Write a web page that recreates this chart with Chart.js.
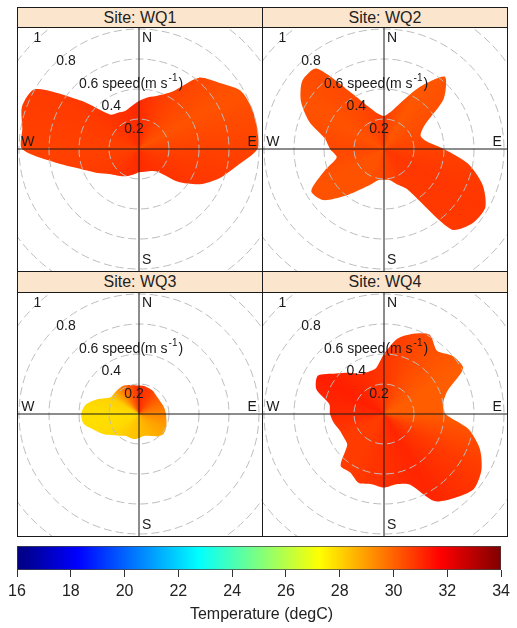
<!DOCTYPE html>
<html>
<head>
<meta charset="utf-8">
<title>Polar plots by site</title>
<script src="https://cdn.jsdelivr.net/npm/chart.js@4.4.1/dist/chart.umd.min.js"></script>
<style>
  body { margin: 0; background: #fff; font-family: "Liberation Sans", Arial, sans-serif; }
  #page { position: relative; width: 517px; height: 628px; overflow: hidden; }
  .strip { position: absolute; box-sizing: border-box; border: 1px solid #1a1a1a; background: #fce5cd;
           color: #222; font-size: 16px; text-align: center; }
  .plot { position: absolute; box-sizing: border-box; border: 1px solid #1a1a1a; overflow: hidden; background: #fff; }
  .plot canvas { position: absolute; left: -29px; top: -29px; }
  #scaleBar { position: absolute; left: 0; top: 536px; }
</style>
</head>
<body>
<div id="page">
  <canvas id="scaleBar" width="517" height="92"></canvas>
</div>
<script>
// wind direction bins (degrees from north, clockwise)
const bearings = [0, 10, 20, 30, 40, 50, 60, 70, 80, 90, 100, 110, 120, 130, 140, 150, 160, 170,
                  180, 190, 200, 210, 220, 230, 240, 250, 260, 270, 280, 290, 300, 310, 320, 330, 340, 350];

// outer extent of the surface per bin, wind speed (m/s)
const speedWQ1 = [0.32, 0.35, 0.38, 0.44, 0.62, 0.69, 0.78, 0.80, 0.80, 0.79, 0.66, 0.57, 0.47, 0.34, 0.20, 0.17, 0.16, 0.155,
                  0.155, 0.17, 0.19, 0.21, 0.23, 0.26, 0.32, 0.40, 0.55, 0.78, 0.79, 0.83, 0.80, 0.50, 0.30, 0.28, 0.27, 0.29];
const speedWQ2 = [0.22, 0.25, 0.33, 0.48, 0.63, 0.52, 0.31, 0.26, 0.29, 0.40, 0.57, 0.70, 0.78, 0.77, 0.70, 0.31, 0.25, 0.21,
                  0.205, 0.21, 0.25, 0.31, 0.41, 0.53, 0.56, 0.42, 0.32, 0.36, 0.40, 0.53, 0.64, 0.71, 0.70, 0.43, 0.30, 0.24];
const speedWQ3 = [0.19, 0.19, 0.185, 0.18, 0.17, 0.165, 0.165, 0.17, 0.175, 0.18, 0.185, 0.195, 0.205, 0.21, 0.195, 0.17, 0.155, 0.15,
                  0.16, 0.17, 0.17, 0.17, 0.19, 0.22, 0.27, 0.315, 0.375, 0.385, 0.36, 0.29, 0.22, 0.215, 0.215, 0.215, 0.205, 0.195];
const speedWQ4 = [0.40, 0.51, 0.57, 0.61, 0.55, 0.60, 0.61, 0.45, 0.40, 0.41, 0.57, 0.68, 0.75, 0.78, 0.73, 0.67, 0.50, 0.475,
                  0.49, 0.475, 0.49, 0.45, 0.45, 0.32, 0.31, 0.315, 0.34, 0.36, 0.37, 0.48, 0.51, 0.42, 0.36, 0.31, 0.30, 0.31];

// mean water temperature by direction sector (degC)
const tempBearings = [0, 30, 60, 90, 120, 150, 180, 210, 240, 270, 300, 330];
const tempWQ1 = [31.0, 30.6, 30.3, 30.6, 30.8, 30.9, 31.0, 30.9, 30.7, 30.6, 30.7, 30.9];
const tempWQ2 = [30.7, 30.2, 30.4, 30.6, 30.8, 30.7, 30.5, 30.3, 30.3, 30.5, 30.3, 30.5];
const tempWQ3 = [31.0, 30.6, 29.9, 29.4, 28.9, 28.6, 28.4, 28.2, 27.9, 27.8, 28.1, 29.8];
const tempWQ4 = [30.8, 30.4, 30.1, 30.1, 30.7, 31.1, 30.9, 30.7, 30.7, 31.0, 31.2, 31.0];

const sites = ['WQ1', 'WQ2', 'WQ3', 'WQ4'];
const siteSpeeds = [speedWQ1, speedWQ2, speedWQ3, speedWQ4];
const siteTemps = [tempWQ1, tempWQ2, tempWQ3, tempWQ4];

const speedTicks = [0.2, 0.4, 0.6, 0.8, 1];
const tempTicks = [16, 18, 20, 22, 24, 26, 28, 30, 32, 34];
const tempMin = 16, tempMax = 34;

// jet colour ramp
const jetColours = ['#00007F', '#0000FF', '#007FFF', '#00FFFF', '#7FFF7F', '#FFFF00', '#FF7F00', '#FF0000', '#7F0000'];

const FONT = '"Liberation Sans", Arial, sans-serif';

function hexRgb(h) {
  return [parseInt(h.slice(1, 3), 16), parseInt(h.slice(3, 5), 16), parseInt(h.slice(5, 7), 16)];
}

function jet(t) {
  let f = (t - tempMin) / (tempMax - tempMin) * (jetColours.length - 1);
  f = Math.max(0, Math.min(jetColours.length - 1, f));
  const i = Math.min(Math.floor(f), jetColours.length - 2);
  const a = hexRgb(jetColours[i]), b = hexRgb(jetColours[i + 1]);
  const u = f - i;
  const c = a.map((v, k) => Math.round(v + (b[k] - v) * u));
  return 'rgb(' + c.join(',') + ')';
}

// panel layout: two columns, two rows
const colLeft = [17, 262];
const stripTop = [7, 271];
const stripHeight = [21, 22];
const plotTop = [27, 292];

// draws speed labels along the 315 degree line and the compass letters
const polarLabels = {
  id: 'polarLabels',
  afterDraw(chart) {
    const r = chart.scales.r;
    const ctx = chart.ctx;
    ctx.save();
    ctx.fillStyle = '#1a1a1a';
    ctx.font = '14px ' + FONT;
    ctx.textBaseline = 'middle';
    ctx.textAlign = 'left';
    speedTicks.forEach(v => {
      const d = r.getDistanceFromCenterForValue(v * 1.07) * Math.SQRT1_2;
      let x = r.xCenter - d + 8;
      const y = r.yCenter - d + 3;
      if (v === 0.6) {
        const main = '0.6 speed(m s';
        ctx.fillText(main, x, y);
        x += ctx.measureText(main).width + 1;
        ctx.font = '10px ' + FONT;
        ctx.fillText('-1', x, y - 6);
        x += ctx.measureText('-1').width + 1;
        ctx.font = '14px ' + FONT;
        ctx.fillText(')', x, y);
      } else {
        ctx.fillText(String(v), x, y);
      }
    });
    const e = r.getDistanceFromCenterForValue(0.785);
    ctx.textBaseline = 'top';
    ctx.fillText('N', r.xCenter + 3, r.yCenter - e);
    ctx.textBaseline = 'bottom';
    ctx.fillText('S', r.xCenter + 3, r.yCenter + e);
    ctx.textBaseline = 'alphabetic';
    ctx.fillText('W', r.xCenter - e, r.yCenter - 3);
    ctx.textAlign = 'right';
    ctx.fillText('E', r.xCenter + e, r.yCenter - 3);
    ctx.restore();
  }
};

const page = document.getElementById('page');

sites.forEach((site, s) => {
  const col = s % 2, row = Math.floor(s / 2);

  const strip = document.createElement('div');
  strip.className = 'strip';
  strip.style.left = colLeft[col] + 'px';
  strip.style.top = stripTop[row] + 'px';
  strip.style.width = '246px';
  strip.style.height = stripHeight[row] + 'px';
  strip.style.lineHeight = (stripHeight[row] - 2) + 'px';
  strip.textContent = 'Site: ' + site;
  page.appendChild(strip);

  const box = document.createElement('div');
  box.className = 'plot';
  box.style.left = colLeft[col] + 'px';
  box.style.top = plotTop[row] + 'px';
  box.style.width = '246px';
  box.style.height = '245px';
  const canvas = document.createElement('canvas');
  canvas.width = 300;
  canvas.height = 300;
  box.appendChild(canvas);
  page.appendChild(box);

  const temps = siteTemps[s];
  let fillCache = null;

  new Chart(canvas, {
    type: 'radar',
    data: {
      labels: bearings.map(String),
      datasets: [{
        data: siteSpeeds[s],
        fill: 'origin',
        borderWidth: 0,
        pointRadius: 0,
        tension: 0.25,
        backgroundColor(c) {
          const r = c.chart.scales.r;
          if (!r || r.xCenter === undefined) return jet(temps[0]);
          if (fillCache) return fillCache;
          const g = c.chart.ctx.createConicGradient(-Math.PI / 2, r.xCenter, r.yCenter);
          tempBearings.forEach((b, i) => g.addColorStop(b / 360, jet(temps[i])));
          g.addColorStop(1, jet(temps[0]));
          fillCache = g;
          return g;
        }
      }]
    },
    options: {
      responsive: false,
      animation: false,
      devicePixelRatio: 1,
      layout: { padding: 0 },
      plugins: { legend: { display: false }, tooltip: { enabled: false } },
      scales: {
        r: {
          min: 0,
          max: 1,
          ticks: { display: false, stepSize: 0.2 },
          pointLabels: { display: false },
          grid: { circular: true, color: '#bdbdbd', lineWidth: 1, z: 1 },
          border: { dash: [8, 4] },
          angleLines: {
            color: c => (c.index % 9 === 0 ? '#1a1a1a' : 'rgba(0,0,0,0)'),
            lineWidth: 1
          }
        }
      }
    },
    plugins: [polarLabels]
  });
});

// colour key
new Chart(document.getElementById('scaleBar'), {
  type: 'bar',
  data: {
    labels: ['temp'],
    datasets: [{
      data: [[tempMin, tempMax]],
      barPercentage: 1,
      categoryPercentage: 1,
      borderWidth: 1,
      borderColor: '#444',
      borderSkipped: false,
      backgroundColor(c) {
        const area = c.chart.chartArea;
        if (!area) return jetColours[0];
        const g = c.chart.ctx.createLinearGradient(area.left, 0, area.right, 0);
        jetColours.forEach((col, i) => g.addColorStop(i / (jetColours.length - 1), col));
        return g;
      }
    }]
  },
  options: {
    indexAxis: 'y',
    responsive: false,
    animation: false,
    devicePixelRatio: 1,
    layout: { padding: { left: 17, right: 11, top: 10, bottom: 1 } },
    plugins: {
      legend: { display: false },
      tooltip: { enabled: false },
      title: {
        display: true,
        position: 'bottom',
        text: 'Temperature (degC)',
        color: '#222',
        font: { size: 16, family: FONT, weight: 'normal', lineHeight: 1 },
        padding: { top: 7, bottom: 4 }
      }
    },
    scales: {
      x: {
        min: tempMin,
        max: tempMax,
        afterBuildTicks(scale) { scale.ticks = tempTicks.map(v => ({ value: v })); },
        afterFit(scale) { scale.height = 30; },
        ticks: { color: '#222', font: { size: 16, family: FONT, lineHeight: 1 }, padding: 7, maxRotation: 0 },
        grid: { drawOnChartArea: false, drawTicks: true, tickLength: 7, tickColor: '#333', color: '#333' },
        border: { display: false }
      },
      y: { display: false }
    }
  }
});
</script>
</body>
</html>
